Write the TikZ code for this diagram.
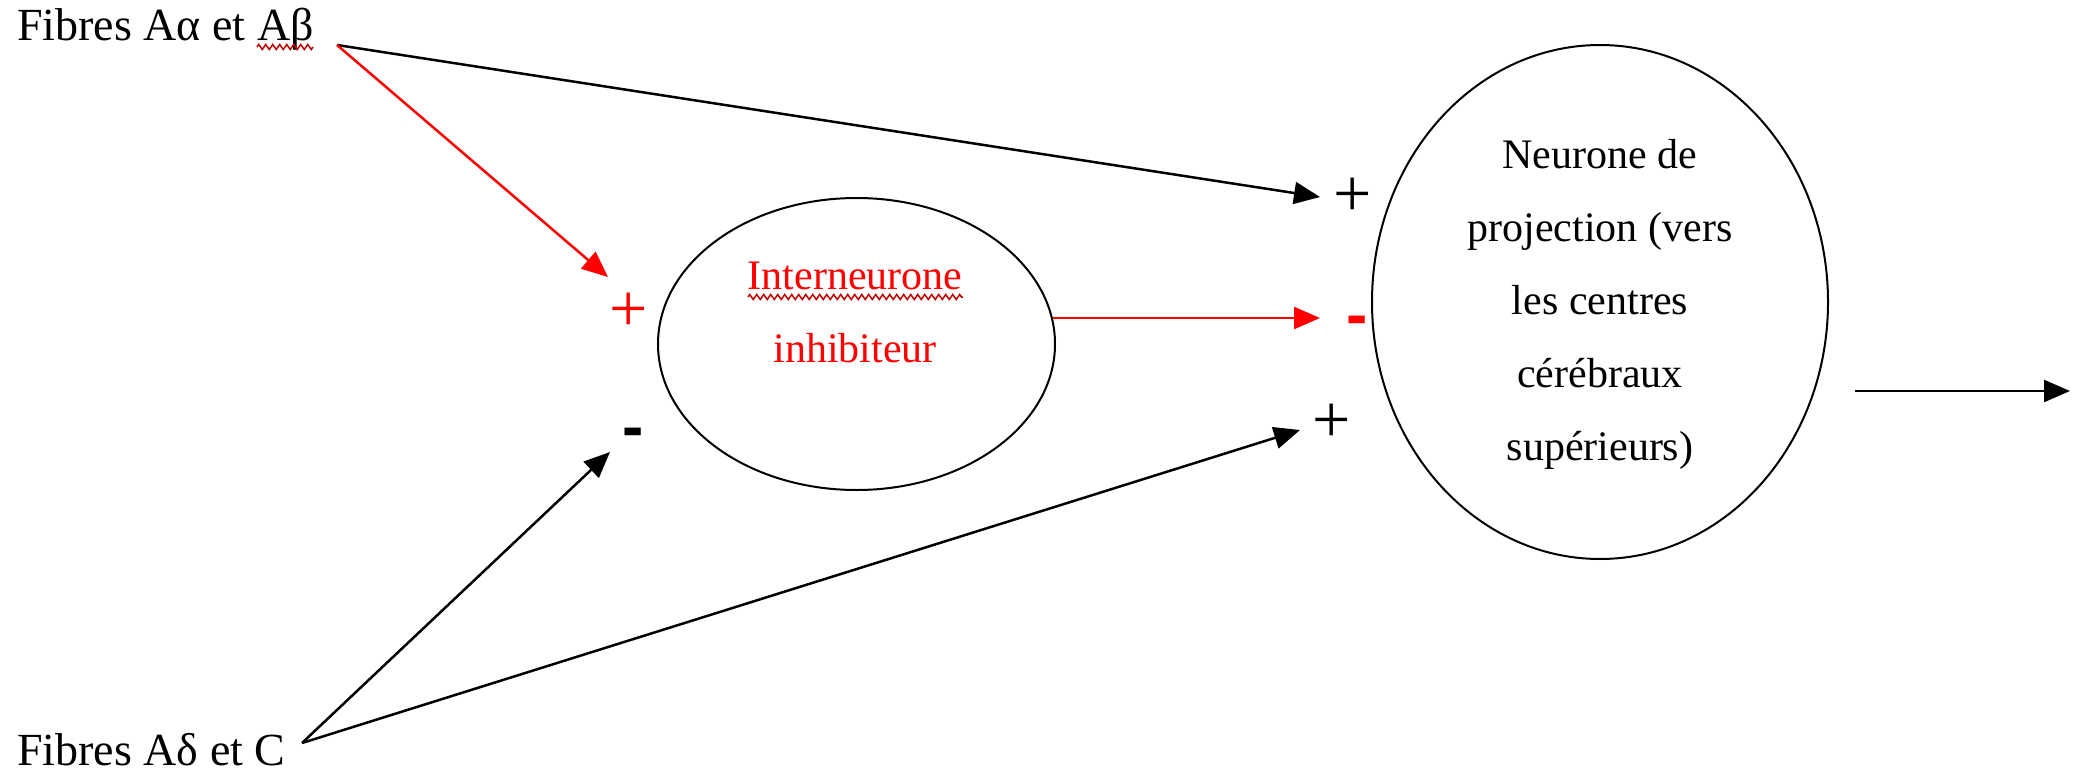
\documentclass[tikz,border=0pt]{standalone}
\usepackage{fontspec}
\setmainfont{Liberation Serif}
\newfontfamily\signfont{Liberation Sans}
\usetikzlibrary{arrows.meta,shapes.geometric,decorations.pathmorphing}

\begin{document}
\begin{tikzpicture}[x=1pt,y=-1pt,
  lbl/.style={inner sep=0pt, font=\fontsize{42}{73}\selectfont},
  fibre/.style={inner sep=0pt, font=\fontsize{46}{46}\selectfont},
  cell/.style={draw, ellipse, line width=2pt, inner sep=0pt},
  link/.style={line width=2.5pt, -{Triangle[length=26pt,width=22pt]}},
  plus/.style={inner sep=0pt, font=\fontsize{68}{68}\selectfont},
  minus/.style={inner sep=0pt, font=\signfont\bfseries\fontsize{64}{64}\selectfont},
  squiggle/.style={draw=red!75!black, line width=1.5pt, decorate,
    decoration={zigzag, segment length=7pt, amplitude=2.5pt}}
]
\useasboundingbox (0,0) rectangle (2083,774);

% input fibres
\node[fibre, anchor=base west] (ab) at (17,40) {Fibres Aα et Aβ};
\node[fibre, anchor=base west] (dc) at (17,765) {Fibres Aδ et C};
\coordinate (abOut) at (337,45);
\coordinate (dcOut) at (302,743);

% inhibitory interneuron
\node[cell, minimum width=397pt, minimum height=292pt] (inter) at (856.5,344) {};
\node[lbl, text=red, align=center] (interText) at (855,312.6) {Interneurone\\inhibiteur};

% projection neuron
\node[cell, minimum width=456pt, minimum height=514pt] (proj) at (1600,302) {};
\node[lbl, align=center] (projText) at (1600,304)
  {Neurone de\\projection (vers\\les centres\\cérébraux\\supérieurs)};

% synapse signs
\node[plus] (pTop) at (1353,197) {+};
\node[plus, text=red] (pInter) at (629,312) {+};
\node[plus] (pLow) at (1332,423) {+};
\node[minus] (mInter) at (633,438) {-};
\node[minus, text=red] (mProj) at (1357,326) {-};

% arrow tips
\coordinate (tipTop) at (1320,197);
\coordinate (tipInterPlus) at (608,277);
\coordinate (tipInterMinus) at (610,452);
\coordinate (tipLow) at (1300,430);
\coordinate (tipProjMinus) at (1320,318);
\coordinate (outStart) at (1855,391);
\coordinate (outEnd) at (2070,391);

% connections
\draw[link] (abOut) -- (tipTop);
\draw[link, red] (abOut) -- (tipInterPlus);
\draw[link] (dcOut) -- (tipInterMinus);
\draw[link] (dcOut) -- (tipLow);
\draw[link, red] (inter.7.6 |- tipProjMinus) -- (tipProjMinus);
\draw[link] (outStart) -- (outEnd);

% spell-check underlines
\draw[squiggle] (257,47) -- (313,47);
\draw[squiggle] (748,297) -- (963,297);
\end{tikzpicture}
\end{document}
